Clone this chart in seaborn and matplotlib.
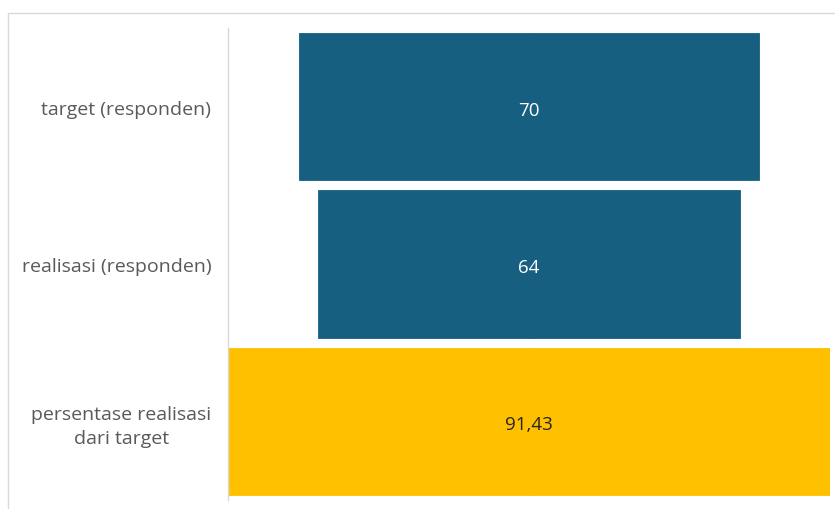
import numpy as np
import pandas as pd
import matplotlib
matplotlib.use("Agg")
import matplotlib.pyplot as plt
import seaborn as sns
from matplotlib.lines import Line2D

# funnel data
stages = ["target (responden)", "realisasi (responden)", "persentase realisasi\ndari target"]
values = [70, 64, 91.43]
value_labels = ["70", "64", "91,43"]
bar_colors = ["#175F80", "#175F80", "#FFC000"]
text_colors = ["white", "white", "#262626"]

sns.set_theme(style="white")
plt.rcParams["font.family"] = ["Open Sans", "DejaVu Sans"]

df = pd.DataFrame({"stage": stages, "value": values})
df["right"] = df["value"] / 2
df["left"] = -df["value"] / 2

fig = plt.figure(figsize=(8.35, 5.1), dpi=100)
ax = fig.add_axes([228 / 835, 1 - 501 / 510, 602 / 835, 472 / 510])

pal = dict(zip(stages, bar_colors))
# centred funnel: draw each bar as two halves mirrored around zero
for side in ["right", "left"]:
    sns.barplot(data=df, x=side, y="stage", hue="stage", palette=pal, order=stages,
                legend=False, width=0.935, linewidth=0.6, ax=ax, saturation=1)
for p in ax.patches:
    p.set_edgecolor(p.get_facecolor())

half = max(values) / 2
ax.set_xlim(-half, half)
ax.set_ylim(2.5, -0.5)

for i, (lab, tc) in enumerate(zip(value_labels, text_colors)):
    ax.text(0, i + 0.02, lab, ha="center", va="center", color=tc, fontsize=13.5)

ax.set_xlabel("")
ax.set_ylabel("")
ax.set_xticks([])
ax.tick_params(axis="y", length=0, pad=12, labelsize=14, labelcolor="#595959")
for t in ax.get_yticklabels():
    t.set_multialignment("center")
    t.set_linespacing(1.4)

for s in ["top", "right", "bottom"]:
    ax.spines[s].set_visible(False)
ax.spines["left"].set_color("#d9d9d9")
ax.spines["left"].set_linewidth(1)

# light chart-area frame (top and left edges)
fig.add_artist(Line2D([8 / 835, 1.0], [1 - 14 / 510, 1 - 14 / 510],
                      transform=fig.transFigure, color="#d9d9d9", lw=1))
fig.add_artist(Line2D([8 / 835, 8 / 835], [0, 1 - 14 / 510],
                      transform=fig.transFigure, color="#d9d9d9", lw=1))

fig.savefig("out.png", dpi=100)
